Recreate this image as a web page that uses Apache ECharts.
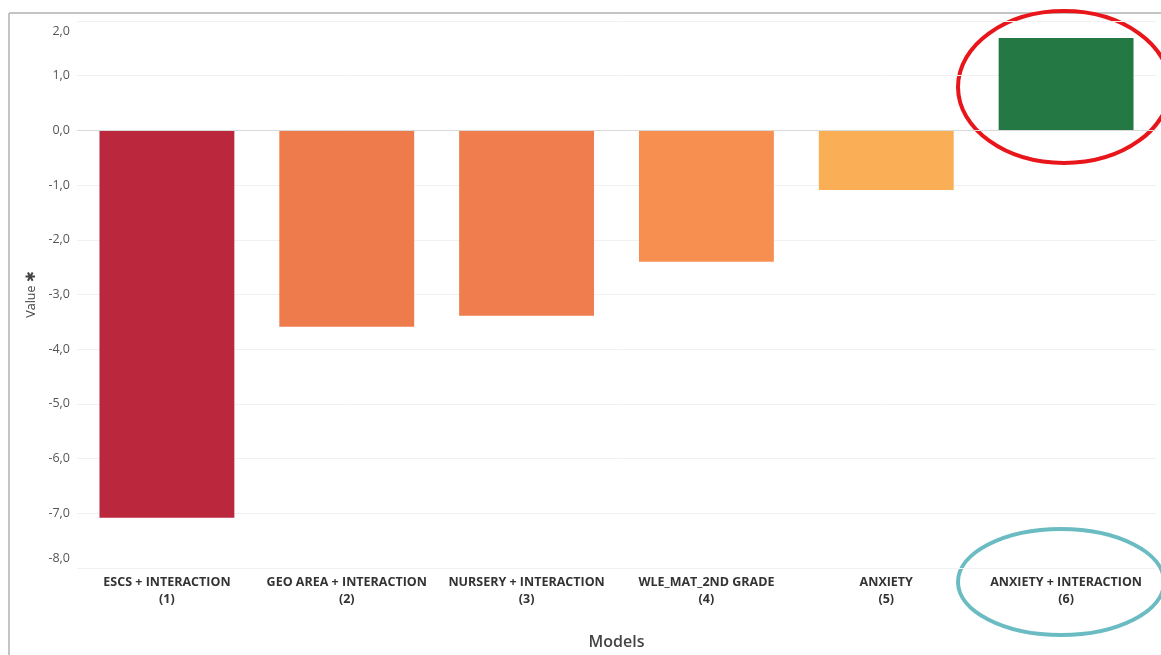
<!DOCTYPE html>
<html>
<head>
<meta charset="utf-8">
<script src="https://cdn.jsdelivr.net/npm/echarts@6/dist/echarts.min.js"></script>
<style>
  html, body { margin: 0; padding: 0; background: #fff; }
  #chart { width: 1161px; height: 655px; }
</style>
</head>
<body>
<div id="chart"></div>
<script>
const categories = [
  "ESCS + INTERACTION\n(1)",
  "GEO AREA + INTERACTION\n(2)",
  "NURSERY + INTERACTION\n(3)",
  "WLE_MAT_2ND GRADE\n(4)",
  "ANXIETY\n(5)",
  "ANXIETY + INTERACTION\n(6)"
];
const values = [-7.08, -3.59, -3.39, -2.40, -1.09, 1.69];
const barColors = ["#BB273C", "#EE7B4C", "#EF7D4D", "#F68F50", "#FAAE55", "#237843"];
const yMin = -8, yMax = 2;

const chart = echarts.init(document.getElementById("chart"));

// end labels sit inside the plot, like the original
function yLabel(v) {
  const s = v.toFixed(1).replace(".", ",");
  if (v === yMax) return "{top|" + s + "}";
  if (v === yMin) return "{bot|" + s + "}";
  return s;
}

const option = {
  animation: false,
  grid: { left: 77, right: 5, top: 21, bottom: 85 },
  xAxis: {
    type: "category",
    data: categories,
    axisLine: { show: false },
    axisTick: { show: false },
    axisLabel: {
      interval: 0,
      color: "#333",
      fontFamily: "Open Sans",
      fontWeight: "bold",
      fontSize: 12.5,
      lineHeight: 17,
      margin: 6
    },
    name: "Models",
    nameLocation: "middle",
    nameGap: 66,
    nameTextStyle: { color: "#444", fontFamily: "Open Sans", fontSize: 16, fontWeight: 600 }
  },
  yAxis: {
    type: "value",
    min: yMin,
    max: yMax,
    interval: 1,
    axisLine: { show: false },
    axisTick: { show: false },
    splitLine: { lineStyle: { color: "#f1f1f1", width: 1 } },
    axisLabel: {
      color: "#555",
      fontFamily: "Open Sans",
      fontSize: 12.5,
      margin: 7,
      formatter: yLabel,
      rich: {
        top: { color: "#555", fontFamily: "Open Sans", fontSize: 12.5, padding: [20, 0, 0, 0] },
        bot: { color: "#555", fontFamily: "Open Sans", fontSize: 12.5, padding: [0, 0, 20, 0] }
      }
    },
    name: "Value ✱",
    nameLocation: "middle",
    nameGap: 38,
    nameTextStyle: { color: "#444", fontFamily: "Open Sans", fontSize: 12.5 }
  },
  series: [{
    type: "bar",
    data: values.map((v, i) => ({ value: v, itemStyle: { color: barColors[i] } })),
    barWidth: "75%",
    markLine: {
      silent: true,
      symbol: "none",
      label: { show: false },
      lineStyle: { color: "#d9d9d9", type: "solid", width: 1 },
      data: [{ yAxis: 0 }]
    }
  }],
  graphic: [
    { type: "line", shape: { x1: 9, y1: 13, x2: 1161, y2: 13 }, style: { stroke: "#c4c4c4", lineWidth: 2 } },
    { type: "line", shape: { x1: 9, y1: 13, x2: 9, y2: 655 }, style: { stroke: "#c4c4c4", lineWidth: 2 } },
    { type: "ellipse", shape: { cx: 1064, cy: 87, rx: 106, ry: 76 }, style: { fill: null, stroke: "#E8161B", lineWidth: 4 } },
    { type: "ellipse", shape: { cx: 1061, cy: 582, rx: 103, ry: 53 }, style: { fill: null, stroke: "#6BBCC2", lineWidth: 4 } }
  ]
};

chart.setOption(option);
</script>
</body>
</html>
